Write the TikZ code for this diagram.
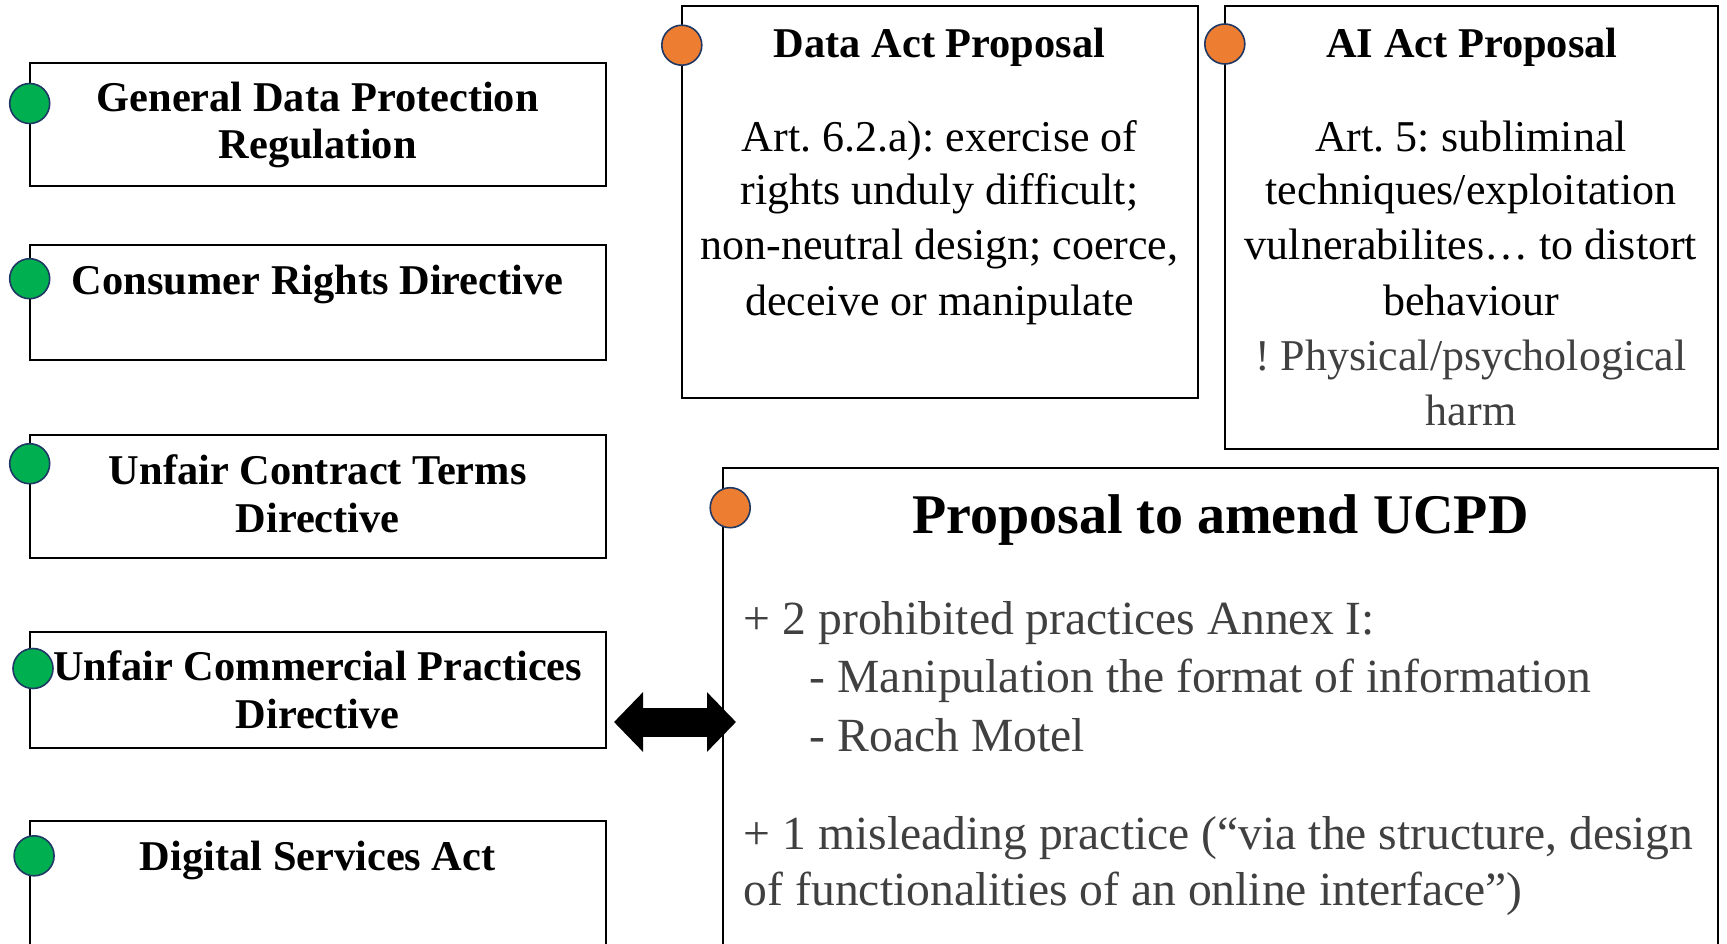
\documentclass[tikz,border=0pt]{standalone}
\usepackage{fontspec}
\setmainfont{Liberation Serif}
\usetikzlibrary{arrows.meta,fit}
\definecolor{dotgreen}{HTML}{00B050}
\definecolor{dotorange}{HTML}{ED7D31}
\definecolor{dotrim}{HTML}{1F3864}
\definecolor{softtext}{HTML}{404040}
\frenchspacing
\begin{document}
\begin{tikzpicture}[x=0.5pt,y=-0.5pt,
  box/.style={draw=black, line width=1pt, inner sep=0pt, rectangle},
  lawdot/.style={circle, draw=dotrim, line width=0.8pt, minimum size=20pt, inner sep=0pt},
  greendot/.style={lawdot, fill=dotgreen},
  orangedot/.style={lawdot, fill=dotorange},
  headline/.style={anchor=base, inner sep=0pt, font=\bfseries\fontsize{21.2}{25}\selectfont},
  bigheadline/.style={anchor=base, inner sep=0pt, font=\bfseries\fontsize{28}{33}\selectfont},
  bodyline/.style={anchor=base, inner sep=0pt, font=\fontsize{22}{27}\selectfont},
  greyline/.style={bodyline, text=softtext},
  listline/.style={anchor=base west, inner sep=0pt, text=softtext, font=\fontsize{23.8}{29}\selectfont},
  bothways/.style={line width=14.5pt, {Triangle[length=14.5pt,width=29pt]}-{Triangle[length=14.5pt,width=29pt]}}
]
\useasboundingbox (0,0) rectangle (1727,943);

% existing EU instruments (left column)
\node[box, fit={(29.7,62.8) (605.8,186.1)}] (gdpr) {};
\node[box, fit={(29.7,244.5) (605.8,360.2)}] (crd) {};
\node[box, fit={(29.7,435) (605.8,558.4)}] (uctd) {};
\node[box, fit={(29.7,632.2) (605.8,747.9)}] (ucpd) {};
\node[box, fit={(29.7,820.5) (605.8,950)}] (dsa) {};

% proposals (right side)
\node[box, fit={(681.8,5.5) (1198.3,397.6)}] (dataact) {};
\node[box, fit={(1224.8,5.5) (1718.2,449.4)}] (aiact) {};
\node[box, fit={(722.5,468.1) (1718.2,950)}] (amend) {};

% markers
\node[greendot] (gdprdot) at (29.7,103.5) {};
\node[greendot] (crddot) at (29.7,278.7) {};
\node[greendot] (uctddot) at (29.7,463.7) {};
\node[greendot] (ucpddot) at (33,668.5) {};
\node[greendot] (dsadot) at (34.1,855.8) {};
\node[orangedot] (dataactdot) at (681.8,45.2) {};
\node[orangedot] (aiactdot) at (1224.8,44) {};
\node[orangedot] (amenddot) at (730.2,507.7) {};

% left column titles
\node[headline] (gdprA) at (317.7,111) {General Data Protection};
\node[headline] (gdprB) at (317.7,158.5) {Regulation};
\node[headline] (crdA) at (317.7,294) {Consumer Rights Directive};
\node[headline] (uctdA) at (317.7,484.6) {Unfair Contract Terms};
\node[headline] (uctdB) at (317.7,532) {Directive};
\node[headline] (ucpdA) at (317.7,680.7) {Unfair Commercial Practices};
\node[headline] (ucpdB) at (317.7,728) {Directive};
\node[headline] (dsaA) at (317.7,870) {Digital Services Act};

% Data Act
\node[headline] (dataactT) at (939.5,57) {Data Act Proposal};
\node[bodyline] (dataactA) at (939.5,151) {Art. 6.2.a): exercise of};
\node[bodyline] (dataactB) at (939.5,204) {rights unduly difficult;};
\node[bodyline] (dataactC) at (939.5,259) {non-neutral design; coerce,};
\node[bodyline] (dataactD) at (939.5,315) {deceive or manipulate};

% AI Act
\node[headline] (aiactT) at (1472,57) {AI Act Proposal};
\node[bodyline] (aiactA) at (1471,151) {Art. 5: subliminal};
\node[bodyline] (aiactB) at (1471,204) {techniques/exploitation};
\node[bodyline] (aiactC) at (1471,259) {vulnerabilites… to distort};
\node[bodyline] (aiactD) at (1471,315) {behaviour};
\node[greyline] (aiactE) at (1471,370) {! Physical/psychological};
\node[greyline] (aiactF) at (1471,425) {harm};

% amendment proposal
\node[bigheadline] (amendT) at (1220.4,533) {Proposal to amend UCPD};
\node[listline] (amendA) at (743.5,634) {+ 2 prohibited practices Annex I:};
\node[listline] (amendB) at (809.5,692) {- Manipulation the format of information};
\node[listline] (amendC) at (809.5,751) {- Roach Motel};
\node[listline] (amendD) at (743.5,849) {+ 1 misleading practice (“via the structure, design};
\node[listline] (amendE) at (743.5,905) {of functionalities of an online interface”)};

% link between the directive and its amendment
\coordinate (linkL) at (614,722);
\coordinate (linkR) at (736,722);
\draw[bothways] (linkL) -- (linkR);
\end{tikzpicture}
\end{document}
